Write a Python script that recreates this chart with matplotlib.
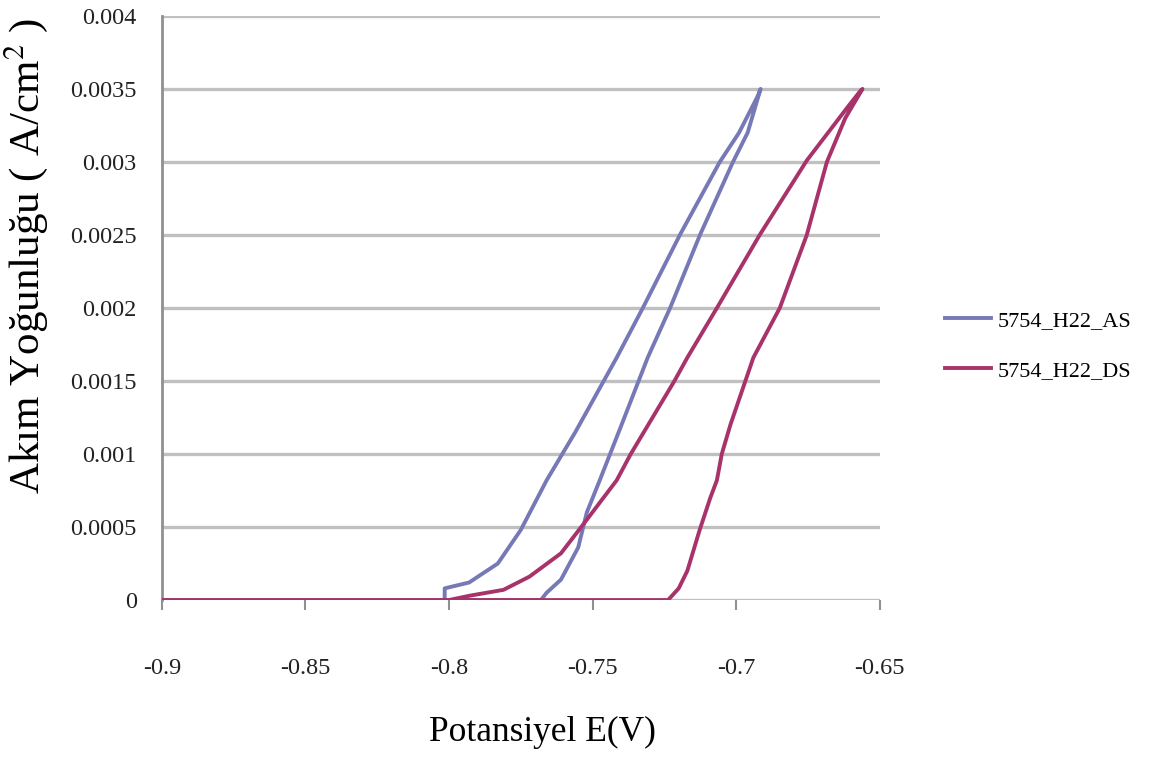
import matplotlib
matplotlib.use("Agg")
import matplotlib.pyplot as plt

# 5754_H22_AS: forward scan then reverse scan
as_fwd_e = [-0.9, -0.768, -0.766, -0.761, -0.755, -0.752, -0.7475, -0.7403,
            -0.7308, -0.723, -0.7126, -0.7011, -0.696, -0.6915]
as_fwd_i = [0, 0, 0.00005, 0.00014, 0.00036, 0.0006, 0.00082, 0.00118,
            0.00166, 0.002, 0.0025, 0.003, 0.0032, 0.0035]
as_rev_e = [-0.6925, -0.699, -0.7057, -0.7196, -0.7325, -0.7416, -0.756,
            -0.766, -0.775, -0.783, -0.793, -0.8015, -0.8015]
as_rev_i = [0.00345, 0.0032, 0.003, 0.0025, 0.002, 0.00166, 0.00115,
            0.00082, 0.00048, 0.00025, 0.00012, 0.00008, 0]

# 5754_H22_DS
ds_fwd_e = [-0.9, -0.7237, -0.720, -0.717, -0.7127, -0.709, -0.7067, -0.705,
            -0.702, -0.694, -0.6848, -0.6754, -0.6684, -0.662, -0.656]
ds_fwd_i = [0, 0, 0.00008, 0.0002, 0.00048, 0.0007, 0.00082, 0.001,
            0.0012, 0.00166, 0.002, 0.0025, 0.003, 0.0033, 0.0035]
ds_rev_e = [-0.657, -0.661, -0.6754, -0.6918, -0.7067, -0.717, -0.7215,
            -0.7367, -0.7416, -0.752, -0.761, -0.772, -0.781, -0.7927, -0.80]
ds_rev_i = [0.00348, 0.00338, 0.00301, 0.0025, 0.002, 0.00166, 0.0015,
            0.001, 0.00082, 0.00055, 0.00032, 0.00016, 0.00007, 0.00003, 0]

x_ticks = [-0.9, -0.85, -0.8, -0.75, -0.7, -0.65]
x_tick_labels = ["-0.9", "-0.85", "-0.8", "-0.75", "-0.7", "-0.65"]
y_ticks = [0, 0.0005, 0.001, 0.0015, 0.002, 0.0025, 0.003, 0.0035, 0.004]
y_tick_labels = ["0", "0.0005", "0.001", "0.0015", "0.002", "0.0025",
                 "0.003", "0.0035", "0.004"]

plt.rcParams["font.family"] = ["Liberation Serif", "DejaVu Serif"]
plt.rcParams["mathtext.fontset"] = "stix"

fig = plt.figure(figsize=(11.56, 7.58), dpi=100)
ax = fig.add_axes([0.140, 0.2084, 0.621, 0.7706])

blue = "#7779B6"
red = "#A8336A"
ax.plot(as_fwd_e + as_rev_e, as_fwd_i + as_rev_i, color=blue, linewidth=2.8,
        label="5754_H22_AS", zorder=3)
ax.plot(ds_fwd_e + ds_rev_e, ds_fwd_i + ds_rev_i, color=red, linewidth=2.8,
        label="5754_H22_DS", zorder=4)

ax.set_xlim(-0.9, -0.65)
ax.set_ylim(0, 0.004)
ax.set_xticks(x_ticks)
ax.set_xticklabels(x_tick_labels)
ax.set_yticks(y_ticks)
ax.set_yticklabels(y_tick_labels)
ax.tick_params(axis="x", direction="out", length=7, width=1.5, color="#909090",
               labelsize=17.5, pad=35, labelcolor="#222222")
ax.tick_params(axis="y", length=0, labelsize=17.5, pad=18, labelcolor="#222222")

ax.yaxis.grid(True, color="#C0C0C0", linewidth=2.4)
ax.set_axisbelow(True)
for side in ("top", "right", "bottom"):
    ax.spines[side].set_visible(False)
ax.spines["left"].set_color("#909090")
ax.spines["left"].set_linewidth(2)

ax.set_xlabel("Potansiyel E(V)", fontsize=25.5, va="center")
ax.xaxis.set_label_coords(0.53, -0.226)
ax.set_ylabel("Akım Yoğunluğu ( A/cm$^{2}$ )", fontsize=31, va="center")
ax.yaxis.set_label_coords(-0.19, 0.59)

fig.legend(loc="center left", bbox_to_anchor=(0.8, 0.544), frameon=False,
           fontsize=16, handlelength=2.1, handletextpad=0.3, labelspacing=1.3)

fig.savefig("out.png", dpi=100)
